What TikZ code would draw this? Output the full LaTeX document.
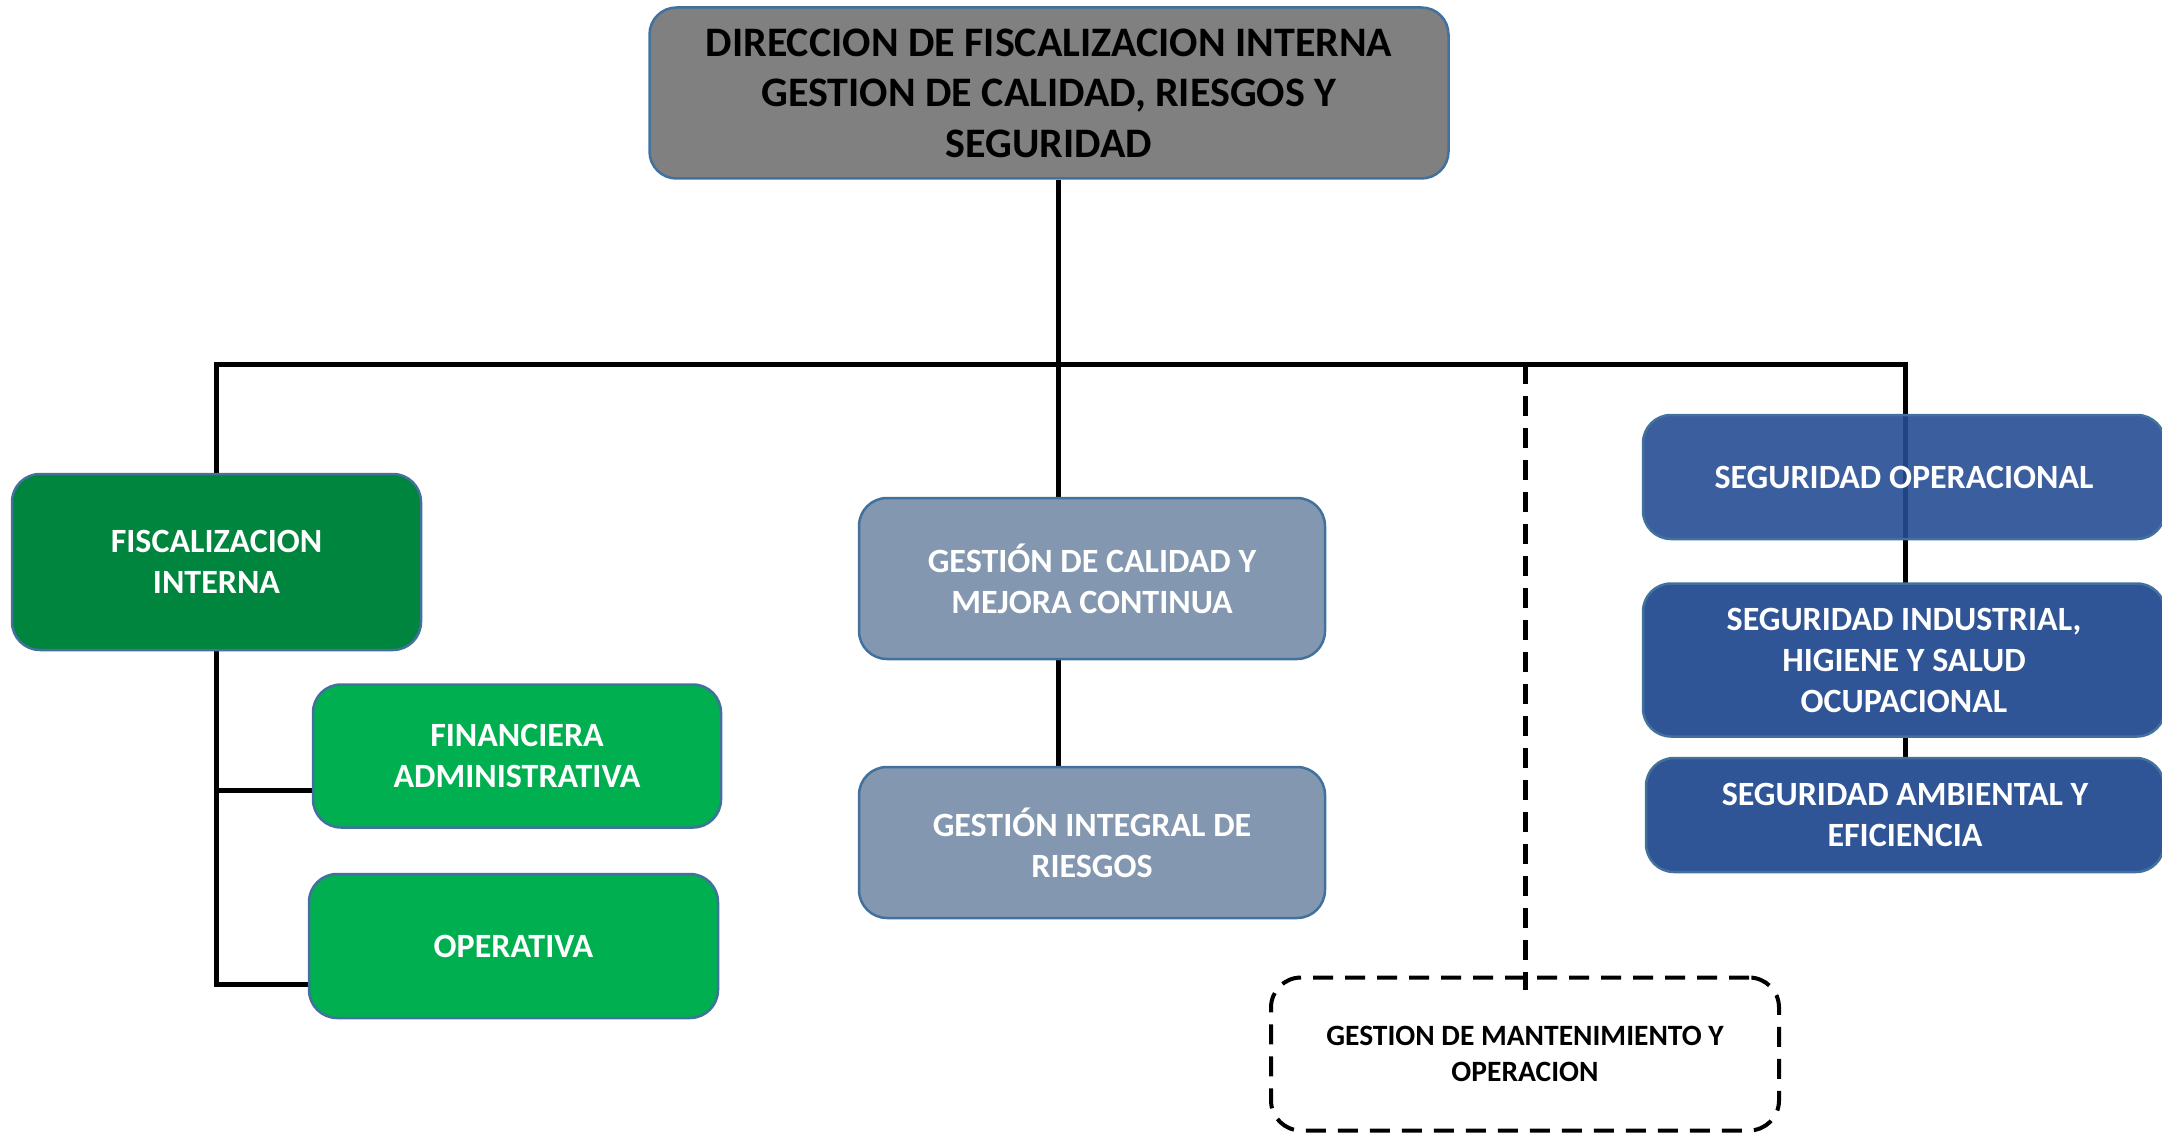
\documentclass[tikz,border=0pt]{standalone}
\usepackage{fontspec}
\setmainfont{Carlito}
\usetikzlibrary{backgrounds}
\definecolor{boxedge}{HTML}{41719C}
\definecolor{dirgray}{HTML}{808080}
\definecolor{fiscgreen}{HTML}{00853E}
\definecolor{subgreen}{HTML}{00B050}
\definecolor{calslate}{HTML}{8497B0}
\definecolor{segblue}{HTML}{2F5597}
\definecolor{segopblue}{HTML}{254C93}
\begin{document}
\begin{tikzpicture}[x=1pt, y=-1pt,
  box/.style={draw=boxedge, line width=2.5pt, rounded corners=28pt, align=center,
    inner sep=0pt, text=white, font=\bfseries\fontsize{34}{41}\selectfont},
  conn/.style={line width=5pt, black},
  dconn/.style={conn, dash pattern=on 20pt off 12pt}]
\useasboundingbox (0,0) rectangle (2162,1134);
% direccion
\node[box, fill=dirgray, text=black, minimum width=799pt, minimum height=171pt, rounded corners=27pt,
  font=\bfseries\fontsize{42}{50.5}\selectfont] (dir) at (1049,93)
  {DIRECCION DE FISCALIZACION INTERNA\\GESTION DE CALIDAD, RIESGOS Y\\SEGURIDAD};
% fiscalizacion
\node[box, fill=fiscgreen, minimum width=409pt, minimum height=176pt] (fisc) at (216.5,562) {FISCALIZACION\\INTERNA};
\node[box, fill=subgreen, minimum width=408pt, minimum height=143pt] (fin) at (517,756) {FINANCIERA\\ADMINISTRATIVA};
\node[box, fill=subgreen, minimum width=409pt, minimum height=144pt] (oper) at (513.5,946) {OPERATIVA};
% calidad y riesgos
\node[box, fill=calslate, minimum width=466pt, minimum height=161pt] (cal) at (1092,578.5) {GESTIÓN DE CALIDAD Y\\MEJORA CONTINUA};
\node[box, fill=calslate, minimum width=466pt, minimum height=151pt] (integ) at (1092,842.5) {GESTIÓN INTEGRAL DE\\RIESGOS};
% mantenimiento
\node[draw, dconn, line width=4pt, rounded corners=30pt, align=center, inner sep=0pt, minimum width=508pt, minimum height=153pt,
  font=\bfseries\fontsize{29.5}{36}\selectfont] (mant) at (1525,1054) {GESTION DE MANTENIMIENTO Y\\OPERACION};
% seguridad
\node[box, fill=segopblue, fill opacity=0.9, text opacity=1, minimum width=522pt, minimum height=124pt] (segop) at (1904,477) {SEGURIDAD OPERACIONAL};
\node[box, fill=segblue, minimum width=522pt, minimum height=153pt] (segind) at (1904,660) {SEGURIDAD INDUSTRIAL,\\HIGIENE Y SALUD\\OCUPACIONAL};
\node[box, fill=segblue, minimum width=518pt, minimum height=114pt] (segamb) at (1905,815) {SEGURIDAD AMBIENTAL Y\\EFICIENCIA};
\coordinate (jmid) at (1058,364);
\begin{scope}[on background layer]
\draw[conn] (fisc.north) |- (jmid) -| (segamb.north);
\draw[conn] (dir.south -| jmid) -- (jmid) -- (cal.north -| jmid);
\draw[conn] (cal.south -| jmid) -- (integ.north -| jmid);
\draw[conn] (fisc.south) |- ([yshift=-34pt]fin.west);
\draw[conn] (fisc.south) |- ([yshift=-38pt]oper.west);
\draw[dconn] (jmid -| mant.north) -- ([yshift=-14pt]mant.north);
\end{scope}
\end{tikzpicture}
\end{document}
